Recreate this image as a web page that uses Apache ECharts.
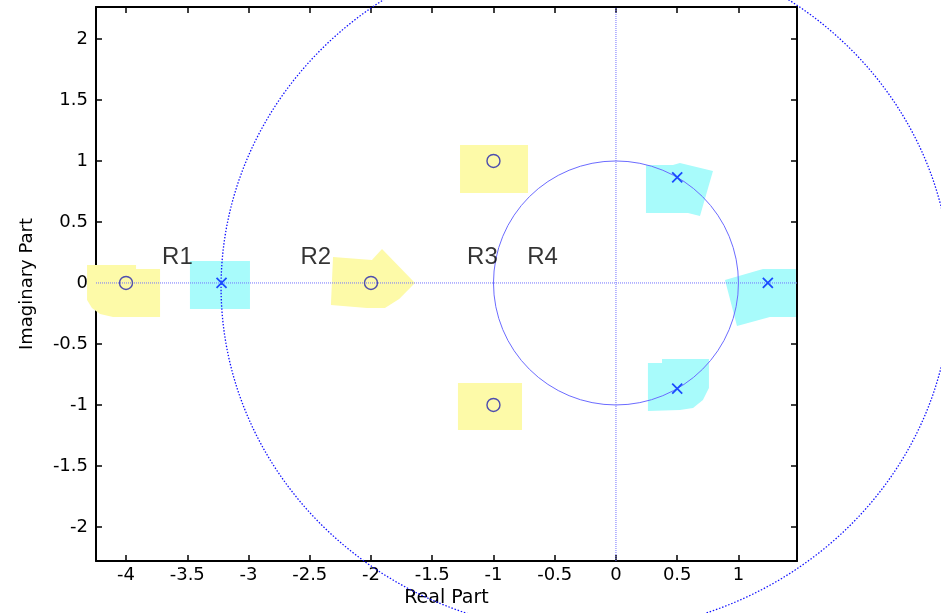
<!DOCTYPE html>
<html>
<head>
<meta charset="utf-8">
<script src="https://cdn.jsdelivr.net/npm/echarts@6/dist/echarts.min.js"></script>
<style>
  html, body { margin: 0; padding: 0; background: #fff; }
  #main { width: 941px; height: 613px; }
</style>
</head>
<body>
<div id="main"></div>
<script>
// zeros (o) and poles (x)
const zeroRe = [-4, -2, -1, -1];
const zeroIm = [0, 0, 1, -1];
const poleRe = [-3.22, 0.5, 0.5, 1.24];
const poleIm = [0, 0.866, -0.866, 0];

// region labels
const regionNames = ['R1', 'R2', 'R3', 'R4'];
const regionRe = [-3.58, -2.45, -1.09, -0.6];
const regionIm = [0.21, 0.21, 0.21, 0.21];

// unit circle and dotted boundary circle
const ringCx = [0, -0.244];
const ringCy = [0, -0.033];
const ringRx = [1, 2.98];
const ringRy = [1, 2.83];

// axis
const xMin = -4.245, xMax = 1.478;
const yMin = -2.279, yMax = 2.262;
const xTicks = [-4, -3.5, -3, -2.5, -2, -1.5, -1, -0.5, 0, 0.5, 1];
const yTicks = [-2, -1.5, -1, -0.5, 0, 0.5, 1, 1.5, 2];

// highlighted areas round the zeros (yellow) and poles (cyan)
const zeroPatches = [
  [[-4.318, 0.148], [-3.918, 0.148], [-3.918, 0.115], [-3.722, 0.115], [-3.722, -0.279],
   [-4.106, -0.279], [-4.212, -0.254], [-4.278, -0.205], [-4.318, -0.139]],
  [[-2.310, 0.213], [-1.992, 0.189], [-1.910, 0.279], [-1.641, 0], [-1.770, -0.131],
   [-1.886, -0.205], [-2.033, -0.205], [-2.327, -0.180]],
  [[-1.273, 1.131], [-0.718, 1.131], [-0.718, 0.738], [-1.273, 0.738]],
  [[-1.290, -0.820], [-0.767, -0.820], [-0.767, -1.205], [-1.290, -1.205]]
];
const polePatches = [
  [[-3.478, 0.180], [-2.988, 0.180], [-2.988, -0.213], [-3.478, -0.213]],
  [[0.245, 0.967], [0.465, 0.967], [0.522, 0.984], [0.792, 0.918], [0.686, 0.549],
   [0.588, 0.574], [0.245, 0.574]],
  [[0.261, -0.656], [0.376, -0.656], [0.376, -0.623], [0.759, -0.623], [0.759, -0.861],
   [0.710, -0.959], [0.629, -1.025], [0.522, -1.041], [0.261, -1.049]],
  [[0.890, 0.025], [1.200, 0.115], [1.469, 0.115], [1.469, -0.279], [1.257, -0.279],
   [0.988, -0.352]]
];

const font = 'DejaVu Sans';
var myChart = echarts.init(document.getElementById('main'));

function patchSeries(patches, re, im, color) {
  return {
    type: 'custom',
    coordinateSystem: 'cartesian2d',
    silent: true,
    clip: false,
    z: 1,
    data: patches.map((p, i) => [re[i], im[i], i]),
    renderItem: function (params, api) {
      let pts = patches[api.value(2)].map(p => api.coord(p));
      return {type: 'polygon', shape: {points: pts}, style: {fill: color}};
    }
  };
}

function xAxis(pos, show) {
  return {
    type: 'value',
    position: pos,
    min: xMin,
    max: xMax,
    name: show ? 'Real Part' : '',
    nameLocation: 'middle',
    nameGap: 27,
    nameTextStyle: {fontFamily: font, fontSize: 19, color: '#000'},
    axisLine: {onZero: false, lineStyle: {color: '#000', width: 2}},
    axisTick: {inside: true, length: 6, customValues: xTicks, lineStyle: {color: '#000', width: 1.5}},
    axisLabel: {show: show, customValues: xTicks, fontFamily: font, fontSize: 18, color: '#000', margin: 5},
    splitLine: {show: false}
  };
}

function yAxis(pos, show) {
  return {
    type: 'value',
    position: pos,
    min: yMin,
    max: yMax,
    name: show ? 'Imaginary Part' : '',
    nameLocation: 'middle',
    nameGap: 60,
    nameTextStyle: {fontFamily: font, fontSize: 18, color: '#000'},
    axisLine: {onZero: false, lineStyle: {color: '#000', width: 2}},
    axisTick: {inside: true, length: 6, customValues: yTicks, lineStyle: {color: '#000', width: 1.5}},
    axisLabel: {show: show, customValues: yTicks, fontFamily: font, fontSize: 18, color: '#000', margin: 8},
    splitLine: {show: false}
  };
}

let option = {
  backgroundColor: '#fff',
  animation: false,
  grid: {left: 96, right: 144, top: 7, bottom: 52, containLabel: false, outerBoundsMode: 'none'},
  xAxis: [xAxis('bottom', true), xAxis('top', false)],
  yAxis: [yAxis('left', true), yAxis('right', false)],
  series: [
    patchSeries(zeroPatches, zeroRe, zeroIm, '#fdfaa8'),
    patchSeries(polePatches, poleRe, poleIm, '#a8fbfb'),
    {
      type: 'line',
      silent: true,
      symbol: 'none',
      z: 2,
      data: [[xMin, 0], [xMax, 0]],
      lineStyle: {color: '#7070ff', width: 1, type: [1, 1]}
    },
    {
      type: 'line',
      silent: true,
      symbol: 'none',
      z: 2,
      data: [[0, yMin], [0, yMax]],
      lineStyle: {color: '#7070ff', width: 1, type: [1, 1]}
    },
    {
      type: 'custom',
      coordinateSystem: 'cartesian2d',
      silent: true,
      clip: false,
      z: 2,
      data: ringCx.map((c, i) => [c, ringCy[i], i]),
      renderItem: function (params, api) {
        let i = api.value(2);
        let c = api.coord([ringCx[i], ringCy[i]]);
        let rx = api.size([ringRx[i], 0])[0];
        let ry = api.size([0, ringRy[i]])[1];
        let style = i === 0
          ? {fill: 'none', stroke: '#6a6aff', lineWidth: 1}
          : {fill: 'none', stroke: '#1010ff', lineWidth: 1.3, lineDash: [1.5, 1.8]};
        return {
          type: 'circle',
          x: c[0],
          y: c[1],
          scaleY: ry / rx,
          shape: {cx: 0, cy: 0, r: rx},
          style: style
        };
      }
    },
    {
      type: 'scatter',
      silent: true,
      z: 3,
      symbol: 'circle',
      symbolSize: 13,
      data: zeroRe.map((v, i) => [v, zeroIm[i]]),
      itemStyle: {color: 'rgba(0,0,0,0)', borderColor: '#4e4eae', borderWidth: 1.4, opacity: 1}
    },
    {
      type: 'scatter',
      silent: true,
      z: 3,
      symbol: 'path://M0,0L10,10M10,0L0,10',
      symbolSize: 10,
      data: poleRe.map((v, i) => [v, poleIm[i]]),
      itemStyle: {color: 'none', borderColor: '#1a4cff', borderWidth: 1.8, opacity: 1}
    },
    {
      type: 'scatter',
      silent: true,
      z: 4,
      symbolSize: 1,
      data: regionRe.map((v, i) => [v, regionIm[i]]),
      itemStyle: {color: 'rgba(0,0,0,0)'},
      label: {
        show: true,
        position: 'inside',
        formatter: p => regionNames[p.dataIndex],
        fontFamily: 'Liberation Sans',
        fontSize: 24,
        color: '#000'
      }
    }
  ]
};
myChart.setOption(option);
</script>
</body>
</html>
